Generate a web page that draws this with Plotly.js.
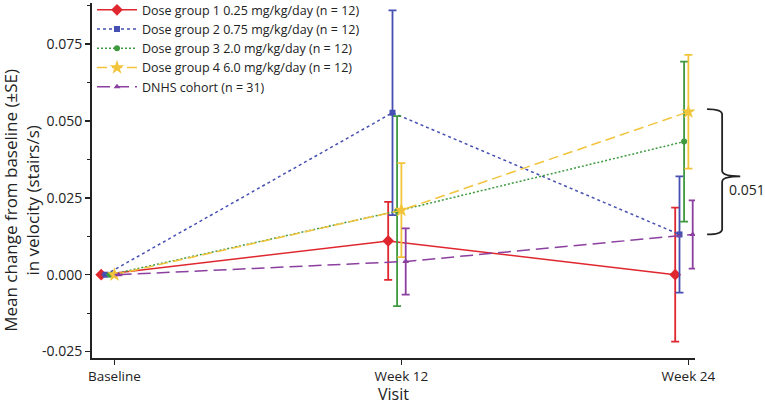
<!DOCTYPE html>
<html>
<head>
<meta charset="utf-8">
<script src="https://cdn.plot.ly/plotly-3.0.1.min.js"></script>
<style>
  html, body { margin: 0; padding: 0; background: #fff; }
  #chart { width: 765px; height: 405px; }
</style>
</head>
<body>
<div id="chart"></div>
<script>
// Visits (x categories)
const visits = ["Baseline", "Week 12", "Week 24"];

// Series names
const seriesNames = [
  "Dose group 1 0.25 mg/kg/day (n = 12)",
  "Dose group 2 0.75 mg/kg/day (n = 12)",
  "Dose group 3 2.0 mg/kg/day (n = 12)",
  "Dose group 4 6.0 mg/kg/day (n = 12)",
  "DNHS cohort (n = 31)",
];

// Mean change from baseline, per series
const dose1Mean = [0, 0.0110, 0.0000];
const dose2Mean = [0, 0.0527, 0.0131];
const dose3Mean = [0, 0.0207, 0.0433];
const dose4Mean = [0, 0.0210, 0.0530];
const dnhsMean = [0, 0.0043, 0.0131];

// Standard errors (none at baseline)
const dose1SE = [null, 0.0127, 0.0218];
const dose2SE = [null, 0.0333, 0.0189];
const dose3SE = [null, 0.0309, 0.0260];
const dose4SE = [null, 0.0153, 0.0185];
const dnhsSE = [null, 0.0108, 0.0111];

// Y tick labels
const yTickVals = [-0.025, 0, 0.025, 0.05, 0.075];
const yTickText = ["-0.025", "0.000", "0.025", "0.050", "0.075"];

// Difference label for the brace at week 24
const braceLabel = "0.051";

const means = [dose1Mean, dose2Mean, dose3Mean, dose4Mean, dnhsMean];
const ses = [dose1SE, dose2SE, dose3SE, dose4SE, dnhsSE];

// Styles
const colors = ["#e0262e", "#4650b2", "#3f9a3f", "#f2c43c", "#8b3f9f"];
const dashes = ["solid", "3px,3px", "2px,2px", "10px,5px", "13px,6px"];
const symbols = ["diamond", "square", "circle", "star", "triangle-up"];
const markerSizes = [9, 6, 6, 11, 6];
const dodge = [-0.046, -0.031, -0.015, 0, 0.015]; // horizontal spread at each visit

const traces = means.map((m, i) => ({
  type: "scatter",
  mode: "lines+markers",
  name: seriesNames[i],
  x: visits.map((v, j) => j + dodge[i]),
  y: m,
  line: { color: colors[i], width: 1.5, dash: dashes[i] },
  marker: { color: colors[i], symbol: symbols[i], size: markerSizes[i] },
  error_y: {
    type: "data",
    array: ses[i],
    visible: true,
    color: colors[i],
    thickness: 1.8,
    width: 4,
  },
  hoverinfo: "none",
}));

// Brace at week 24, from the blue point up to the yellow point
const yTop = dose4Mean[2] + 0.0009;
const yBot = dose2Mean[2];
const yMid = (yTop + yBot) / 2 - 0.0015;
const bx0 = 1.02, bx1 = 1.045, bxn = 1.075;
const r = 0.0018;
const bracePath =
  `M ${bx0} ${yTop} Q ${bx1} ${yTop} ${bx1} ${yTop - r} ` +
  `L ${bx1} ${yMid + r} Q ${bx1} ${yMid} ${bxn} ${yMid} ` +
  `Q ${bx1} ${yMid} ${bx1} ${yMid - r} ` +
  `L ${bx1} ${yBot + r} Q ${bx1} ${yBot} ${bx0} ${yBot}`;

const layout = {
  width: 765,
  height: 405,
  margin: { l: 92, r: 70, t: 3, b: 47, autoexpand: false },
  paper_bgcolor: "#fff",
  plot_bgcolor: "#fff",
  font: { family: "Open Sans, sans-serif", size: 13, color: "#222" },
  showlegend: true,
  legend: {
    x: 0,
    xanchor: "left",
    y: 1.022,
    yanchor: "top",
    bgcolor: "rgba(0,0,0,0)",
    font: { size: 12.5, color: "#222" },
    itemwidth: 40,
    tracegroupgap: 0,
  },
  xaxis: {
    range: [-0.078, 2.023],
    tickvals: [0, 1, 2],
    ticktext: visits,
    showgrid: false,
    zeroline: false,
    showline: true,
    linecolor: "#222",
    linewidth: 2,
    ticks: "outside",
    ticklen: 5,
    tickwidth: 1.5,
    tickcolor: "#222",
    tickfont: { size: 13.5, color: "#222" },
    title: { text: "Visit", font: { size: 16, color: "#222" }, standoff: 5 },
  },
  yaxis: {
    range: [-0.0271, 0.0884],
    tickvals: yTickVals,
    ticktext: yTickText,
    showgrid: false,
    zeroline: false,
    showline: true,
    linecolor: "#222",
    linewidth: 2,
    ticks: "outside",
    ticklen: 5,
    tickwidth: 1.5,
    tickcolor: "#222",
    tickfont: { size: 14, color: "#222" },
    minor: { dtick: 0.0125, tick0: 0, ticks: "outside", ticklen: 3, tickwidth: 1.2, tickcolor: "#222", showgrid: false },
  },
  shapes: [
    {
      type: "path",
      xref: "paper",
      yref: "y",
      path: bracePath,
      line: { color: "#222", width: 1.8 },
    },
  ],
  annotations: [
    {
      xref: "paper",
      yref: "y",
      x: 1.053,
      y: yMid - 0.0042,
      xanchor: "left",
      yanchor: "middle",
      text: braceLabel,
      showarrow: false,
      font: { size: 14, color: "#222" },
    },
    {
      // y axis title, sits a little below the axis middle as in the original
      xref: "paper",
      yref: "paper",
      x: -0.116,
      y: 0.443,
      xanchor: "center",
      yanchor: "middle",
      textangle: -90,
      text: "Mean change from baseline (±SE)<br>in velocity (stairs/s)",
      showarrow: false,
      font: { size: 17, color: "#222" },
    },
  ],
};

Plotly.newPlot("chart", traces, layout, { staticPlot: true });
</script>
</body>
</html>
